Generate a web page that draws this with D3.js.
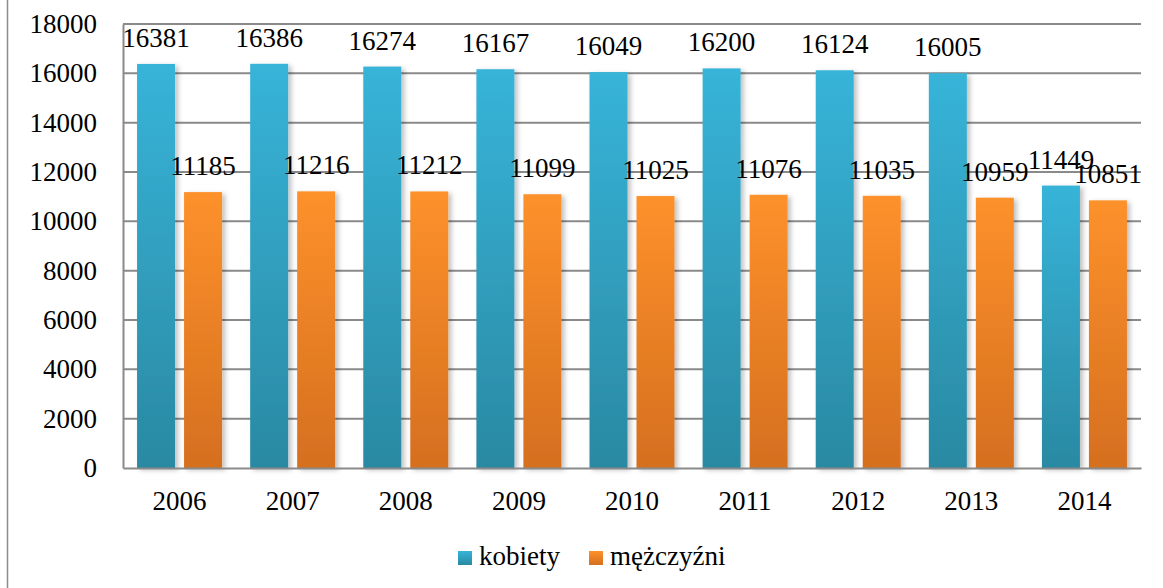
<!DOCTYPE html>
<html>
<head>
<meta charset="utf-8">
<script src="https://cdn.jsdelivr.net/npm/d3@7"></script>
<style>
  body { margin: 0; background: #fff; }
  #canvas text { font-family: "Liberation Serif", serif; fill: #000; }
</style>
</head>
<body>
<div id="canvas"></div>
<script>
/* DATA */
const years = ["2006", "2007", "2008", "2009", "2010", "2011", "2012", "2013", "2014"];
const kobiety = [16381, 16386, 16274, 16167, 16049, 16200, 16124, 16005, 11449];
const mezczyzni = [11185, 11216, 11212, 11099, 11025, 11076, 11035, 10959, 10851];
const yTicks = [0, 2000, 4000, 6000, 8000, 10000, 12000, 14000, 16000, 18000];
const seriesNames = ["kobiety", "mężczyźni"];

/* CANVAS */
const width = 1163;
const height = 588;
const fontSize = "27px";

const svg = d3.select("#canvas")
    .append("svg")
    .attr("width", width)
    .attr("height", height);

const plotLeft = 123, plotRight = 1141, plotTop = 24, plotBottom = 468;

const defs = svg.append("defs");

function gradient(id, c1, c2) {
    let g = defs.append("linearGradient")
        .attr("id", id)
        .attr("x1", 0).attr("y1", 0)
        .attr("x2", 0).attr("y2", 1);
    g.append("stop").attr("offset", "0%").attr("stop-color", c1);
    g.append("stop").attr("offset", "100%").attr("stop-color", c2);
}
gradient("gBlue", "#37b4d9", "#2a89a2");
gradient("gOrange", "#fd912b", "#d56f1f");

let shadow = defs.append("filter")
    .attr("id", "shadow")
    .attr("x", "-20%").attr("y", "-10%")
    .attr("width", "150%").attr("height", "130%");
shadow.append("feDropShadow")
    .attr("dx", 3).attr("dy", 2)
    .attr("stdDeviation", 2.5)
    .attr("flood-color", "#000")
    .attr("flood-opacity", 0.25);

/* outer frame line on the left */
svg.append("line")
    .attr("x1", 7.5).attr("x2", 7.5)
    .attr("y1", 0).attr("y2", height)
    .attr("stroke", "#8c8c8c")
    .attr("stroke-width", 1.5);

/* SCALES */
const x = d3.scaleBand()
    .domain(years)
    .range([plotLeft, plotRight]);

const y = d3.scaleLinear()
    .domain([0, 18000])
    .range([plotBottom, plotTop]);

/* GRIDLINES */
svg.append("g")
    .selectAll("line")
    .data(yTicks.filter(d => d > 0))
    .join("line")
    .attr("x1", plotLeft).attr("x2", plotRight)
    .attr("y1", d => y(d)).attr("y2", d => y(d))
    .attr("stroke", "#8a8a8a")
    .attr("stroke-width", 2);

/* Y AXIS */
const yAxis = svg.append("g")
    .attr("transform", `translate(${plotLeft},0)`)
    .call(d3.axisLeft(y).tickValues(yTicks).tickSize(0).tickPadding(26).tickFormat(d3.format("d")));
yAxis.select(".domain").attr("stroke", "#8a8a8a").attr("stroke-width", 2);
yAxis.selectAll("text")
    .style("font-size", fontSize)
    .attr("fill", "#000");

/* BARS */
const barW = 38;
const gap = 9;

svg.append("g")
    .selectAll("rect")
    .data(years)
    .join("rect")
    .attr("x", (d, i) => x(d) + x.bandwidth() / 2 - gap / 2 - barW)
    .attr("y", (d, i) => y(kobiety[i]))
    .attr("width", barW)
    .attr("height", (d, i) => y(0) - y(kobiety[i]))
    .attr("fill", "url(#gBlue)")
    .attr("filter", "url(#shadow)");

svg.append("g")
    .selectAll("rect")
    .data(years)
    .join("rect")
    .attr("x", (d, i) => x(d) + x.bandwidth() / 2 + gap / 2)
    .attr("y", (d, i) => y(mezczyzni[i]))
    .attr("width", barW)
    .attr("height", (d, i) => y(0) - y(mezczyzni[i]))
    .attr("fill", "url(#gOrange)")
    .attr("filter", "url(#shadow)");

/* X AXIS (bottom line drawn over bars) */
const xAxis = svg.append("g")
    .attr("transform", `translate(0,${plotBottom})`)
    .call(d3.axisBottom(x).tickSize(0).tickPadding(23));
xAxis.select(".domain").attr("stroke", "#8a8a8a").attr("stroke-width", 2);
xAxis.selectAll("text")
    .style("font-size", fontSize)
    .attr("fill", "#000");

/* VALUE LABELS */
svg.append("g")
    .selectAll("text")
    .data(years)
    .join("text")
    .attr("x", (d, i) => x(d) + x.bandwidth() / 2 - gap / 2 - barW / 2)
    .attr("y", (d, i) => y(kobiety[i]) - 17)
    .attr("text-anchor", "middle")
    .style("font-size", fontSize)
    .text((d, i) => kobiety[i]);

svg.append("g")
    .selectAll("text")
    .data(years)
    .join("text")
    .attr("x", (d, i) => x(d) + x.bandwidth() / 2 + gap / 2 + barW / 2)
    .attr("y", (d, i) => y(mezczyzni[i]) - 17)
    .attr("text-anchor", "middle")
    .style("font-size", fontSize)
    .text((d, i) => mezczyzni[i]);

/* LEGEND */
const legend = svg.append("g");
const legendX = [458, 589];
const legendFill = ["url(#gBlue)", "url(#gOrange)"];

legend.selectAll("rect")
    .data(seriesNames)
    .join("rect")
    .attr("x", (d, i) => legendX[i])
    .attr("y", 551)
    .attr("width", 14)
    .attr("height", 14)
    .attr("fill", (d, i) => legendFill[i]);

legend.selectAll("text")
    .data(seriesNames)
    .join("text")
    .attr("x", (d, i) => legendX[i] + 21)
    .attr("y", 565)
    .style("font-size", fontSize)
    .text(d => d);
</script>
</body>
</html>
